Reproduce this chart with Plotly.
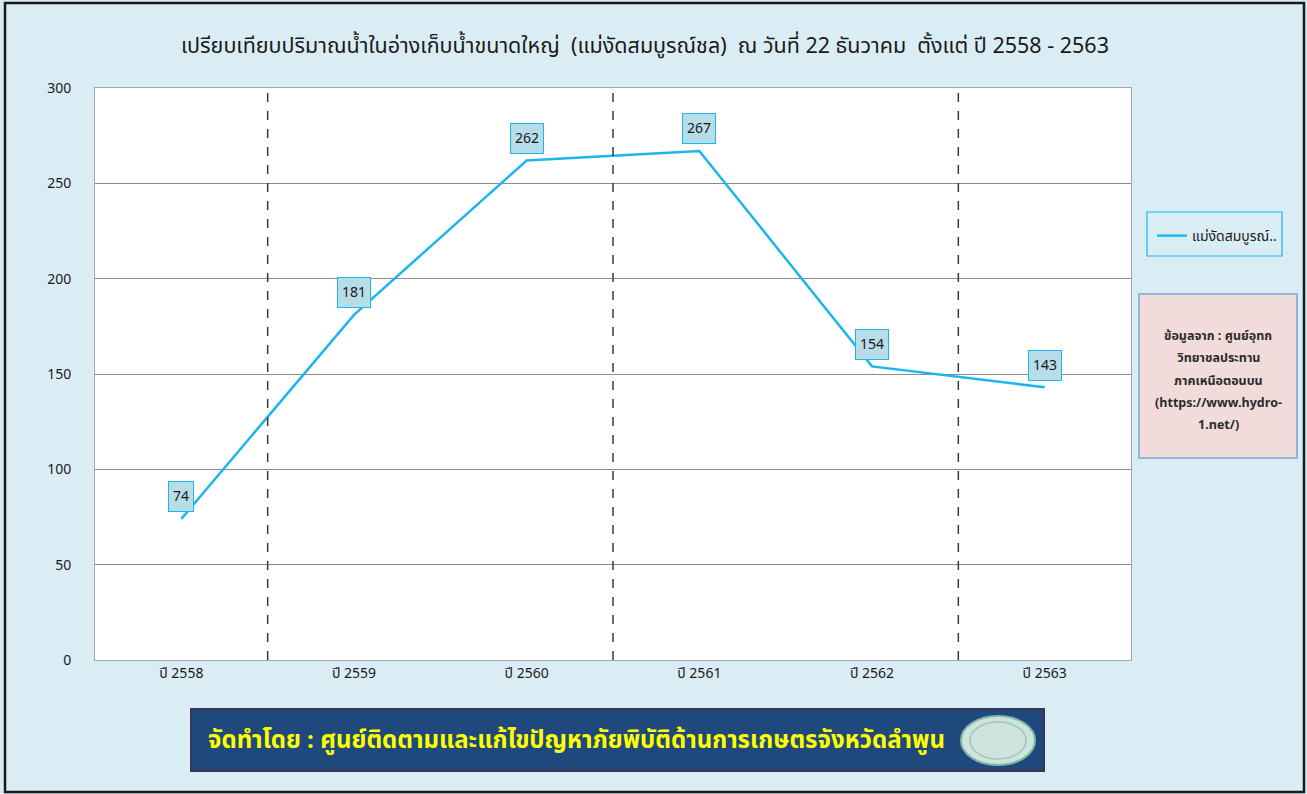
import plotly.graph_objects as go

# data
years = ["ปี 2558", "ปี 2559", "ปี 2560", "ปี 2561", "ปี 2562", "ปี 2563"]
volumes = [74, 181, 262, 267, 154, 143]
series_name = "แม่งัดสมบูรณ์.."
title = "เปรียบเทียบปริมาณน้ำในอ่างเก็บน้ำขนาดใหญ่  (แม่งัดสมบูรณ์ชล)  ณ วันที่ 22 ธันวาคม  ตั้งแต่ ปี 2558 - 2563"
source_lines = ["ข้อมูลจาก : ศูนย์อุทก", "วิทยาชลประทาน", "ภาคเหนือตอนบน",
                "(https://www.hydro-", "1.net/)"]
footer = "จัดทำโดย : ศูนย์ติดตามและแก้ไขปัญหาภัยพิบัติด้านการเกษตรจังหวัดลำพูน"

W, H = 1307, 794
L, R, T, B = 95, 176, 88, 134
PW, PH = W - L - R, H - T - B


def px(x):
    return (x - L) / PW


def py(y):
    return (H - B - y) / PH


FONT = "Tahoma, 'Noto Sans Thai', 'Noto Sans', 'DejaVu Sans', sans-serif"
LINE = "#1cb5ec"

fig = go.Figure()
fig.add_trace(go.Scatter(
    x=years, y=volumes, mode="lines", name=series_name,
    line=dict(color=LINE, width=2.5),
))

# data labels
for yr, v in zip(years, volumes):
    fig.add_annotation(
        x=yr, y=v, xref="x", yref="y", text=str(v), showarrow=False,
        yshift=22, bgcolor="#b7dde8", bordercolor=LINE, borderwidth=1,
        borderpad=4, font=dict(size=14, color="#1a1a1a", family=FONT),
    )

shapes = []
# dashed separators
for xv in [0.5, 2.5, 4.5]:
    shapes.append(dict(type="line", xref="x", yref="y", x0=xv, x1=xv, y0=0, y1=300,
                       line=dict(color="#3a3a3a", width=1.5, dash="dash"), layer="above"))
# outer frame
shapes.append(dict(type="rect", xref="paper", yref="paper",
                   x0=px(5), x1=px(1304), y0=py(792), y1=py(3),
                   line=dict(color="#1a1a1a", width=2.5), layer="below"))
# legend box
shapes.append(dict(type="rect", xref="paper", yref="paper",
                   x0=px(1147), x1=px(1282), y0=py(256), y1=py(212),
                   line=dict(color=LINE, width=1.2)))
# source note box
shapes.append(dict(type="rect", xref="paper", yref="paper",
                   x0=px(1139), x1=px(1297), y0=py(458), y1=py(294),
                   fillcolor="#f2dcdb", line=dict(color="#95b3d7", width=2)))
# footer banner
shapes.append(dict(type="rect", xref="paper", yref="paper",
                   x0=px(191), x1=px(1044), y0=py(771), y1=py(709),
                   fillcolor="#1f497d", line=dict(color="#3c3556", width=2)))
# emblem
shapes.append(dict(type="circle", xref="paper", yref="paper",
                   x0=px(961), x1=px(1035), y0=py(765), y1=py(716),
                   fillcolor="#cfe4dc", line=dict(color="#7fb8a4", width=2)))
shapes.append(dict(type="circle", xref="paper", yref="paper",
                   x0=px(970), x1=px(1026), y0=py(759), y1=py(722),
                   fillcolor="rgba(0,0,0,0)", line=dict(color="#9cc8b8", width=1.5)))

fig.add_annotation(xref="paper", yref="paper", x=px(645), y=py(46),
                   xanchor="center", yanchor="middle",
                   text=title, showarrow=False,
                   font=dict(size=21.5, color="#1a1a1a", family=FONT))
for i, line in enumerate(source_lines):
    fig.add_annotation(xref="paper", yref="paper", x=px(1218), y=py(336 + i * 22.5),
                       xanchor="center", yanchor="middle",
                       text="<b>" + line + "</b>", showarrow=False,
                       font=dict(size=12.5, color="#2a2a2a", family=FONT))
fig.add_annotation(xref="paper", yref="paper", x=px(576), y=py(741),
                   xanchor="center", yanchor="middle",
                   text="<b>" + footer + "</b>", showarrow=False,
                   font=dict(size=24, color="#ffff00", family=FONT))

fig.update_layout(
    width=W, height=H,
    margin=dict(l=L, r=R, t=T, b=B),
    paper_bgcolor="#daedf4",
    plot_bgcolor="#ffffff",
    showlegend=True,
    legend=dict(x=px(1152), y=py(220), xanchor="left", yanchor="top",
                bgcolor="rgba(0,0,0,0)", font=dict(size=14, color="#1a1a1a", family=FONT),
                itemwidth=30),
    shapes=shapes,
    font=dict(family=FONT),
)
fig.update_xaxes(
    type="category", range=[-0.5, 5.5], showgrid=False,
    showline=True, linecolor="#a6a6a6", linewidth=1, mirror=True,
    ticks="", tickfont=dict(size=14, color="#1a1a1a"),
)
fig.update_yaxes(
    range=[0, 300], dtick=50, showgrid=True, gridcolor="#8c8c8c", gridwidth=1,
    showline=True, linecolor="#a6a6a6", linewidth=1, mirror=True,
    ticks="", ticklabelstandoff=20, tickfont=dict(size=14, color="#1a1a1a"),
    zeroline=False,
)

fig.write_html("out.html", config={"displayModeBar": False},
               post_script="document.body.style.margin='0';")
